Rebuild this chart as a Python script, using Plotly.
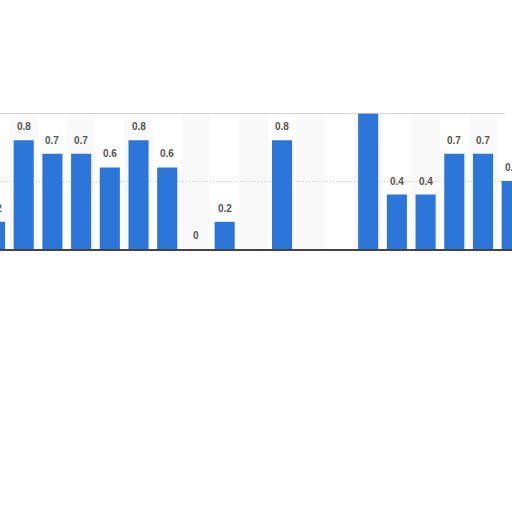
import plotly.graph_objects as go

# slot positions (one per category, first and last only partly visible)
slots = list(range(19))
values = [0.2, 0.8, 0.7, 0.7, 0.6, 0.8, 0.6, 0, 0.2, None,
          0.8, None, None, 1.2, 0.4, 0.4, 0.7, 0.7, 0.5]
labels = ['' if v is None else ('0' if v == 0 else str(v)) for v in values]
labels[13] = ''  # tall bar runs off the top, label cut

fig = go.Figure()

# alternating light stripes behind the bars
for s in slots:
    if s % 2 == 1:
        fig.add_shape(type='rect', xref='x', yref='paper',
                      x0=s - 0.5, x1=s + 0.5, y0=0, y1=1,
                      fillcolor='#f9f9f9', line_width=0, layer='below')

fig.add_trace(go.Bar(
    x=slots, y=values, width=0.7,
    marker=dict(color='#2b76d8', line_width=0),
    hoverinfo='skip',
))

# value labels above the bars
for s, v, t in zip(slots, values, labels):
    if t:
        fig.add_annotation(x=s, y=v, text='<b>' + t + '</b>', showarrow=False,
                           yanchor='bottom', yshift=6,
                           font=dict(family='Liberation Sans', size=10, color='#555555'))

# top frame line
fig.add_shape(type='line', xref='paper', yref='y', x0=0, x1=0.9875, y0=1, y1=1,
              line=dict(color='#c8c8c8', width=1.5))

# chart is wider than the window and shifted left, so the first bar is cut
fig.update_layout(
    width=560, height=512,
    margin=dict(l=0, r=0, t=113, b=263),
    paper_bgcolor='white', plot_bgcolor='white',
    showlegend=False,
    xaxis=dict(range=[-1.498, 18.01], showticklabels=False, ticks='',
               showgrid=False, zeroline=False,
               showline=True, linecolor='#444444', linewidth=1.5),
    yaxis=dict(range=[0, 1.0], tickvals=[0.5], showticklabels=False,
               showgrid=True, gridcolor='#c4c4c4', griddash='1px,2px', gridwidth=1,
               zeroline=False),
)

fig.write_html('out.html', config={'displayModeBar': False},
               post_script="document.body.style.margin='0 0 0 -48px';"
                           "document.body.style.overflow='hidden';")
